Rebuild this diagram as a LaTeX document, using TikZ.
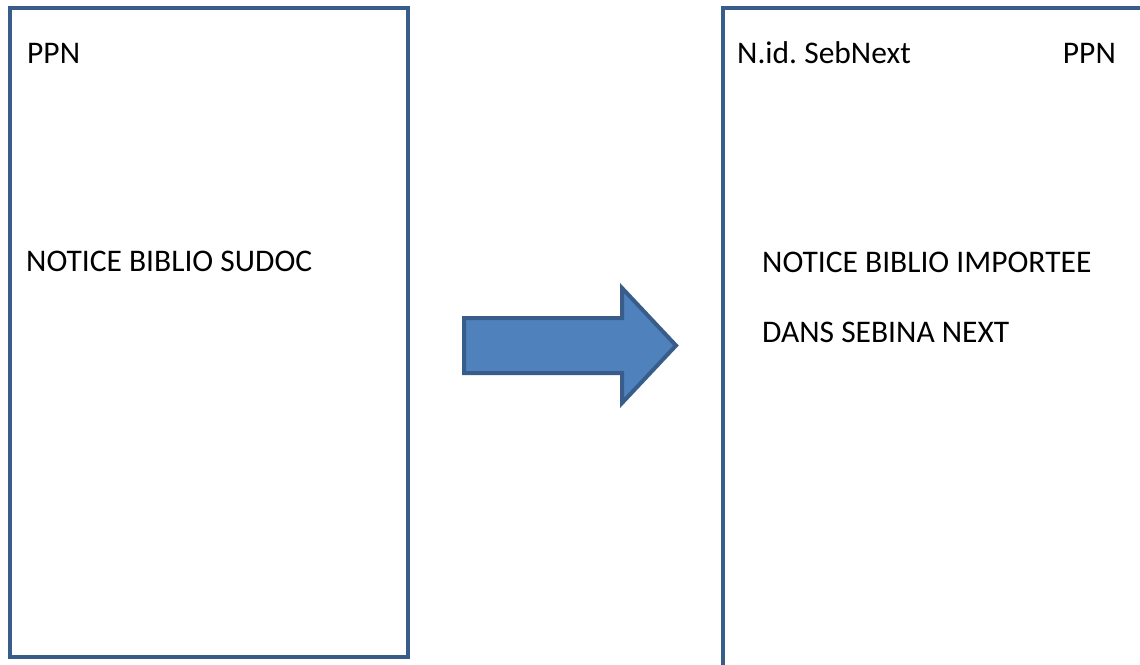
\documentclass[tikz,border=0pt]{standalone}
\usepackage{fontspec}
\setmainfont{Carlito}
\usepackage{tikz}
\definecolor{edge}{HTML}{385D8A}
\definecolor{fillblue}{HTML}{4F81BD}
\tikzset{
  box/.style={draw=edge, line width=4pt, line join=miter},
  arr/.style={draw=edge, fill=fillblue, line width=4pt, line join=miter},
  lab/.style={text=black, font=\fontsize{31.5}{38}\selectfont, inner sep=0pt, anchor=base west},
}
\frenchspacing
\begin{document}
\begin{tikzpicture}[x=1pt, y=-1pt]
  \clip (0,0) rectangle (1140,664);
  \fill[white] (0,0) rectangle (1140,664);

  \coordinate (A1) at (10,8);
  \coordinate (A2) at (408,657);
  \coordinate (B1) at (723,8);
  \coordinate (B2) at (1170,700);

  \draw[box] (A1) rectangle (A2);
  \draw[box] (B1) rectangle (B2);

  \node[lab] (ppnA) at (27,63) {PPN};
  \node[lab] (sudoc) at (26,271) {NOTICE BIBLIO SUDOC};

  \node[lab] (nid) at (737,63) {N.id. SebNext};
  \node[lab, anchor=base east] (ppnB) at (1116,63) {PPN};
  \node[lab] (imp) at (762,272) {NOTICE BIBLIO IMPORTEE};
  \node[lab] (dans) at (762,342) {DANS SEBINA NEXT};

  \draw[arr] (464,318) -- (622,318) -- (622,288) -- (676,345.5)
    -- (622,403) -- (622,373) -- (464,373) -- cycle;
\end{tikzpicture}
\end{document}
